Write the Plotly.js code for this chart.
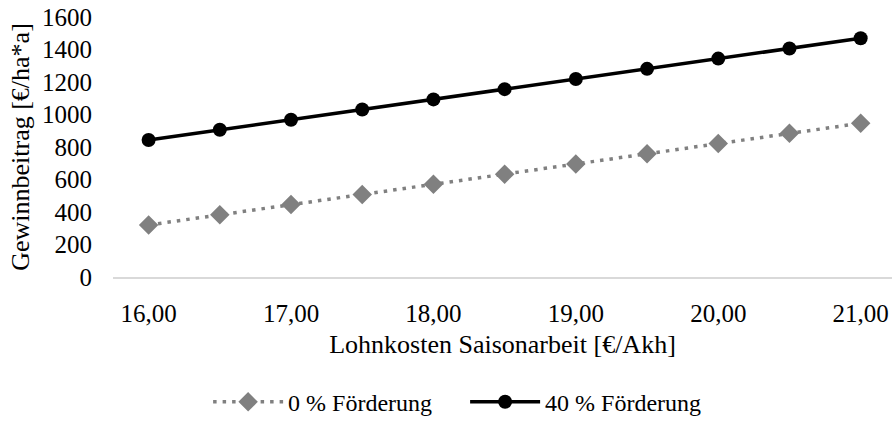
<!DOCTYPE html>
<html>
<head>
<meta charset="utf-8">
<script src="https://cdn.plot.ly/plotly-3.0.1.min.js"></script>
<style>html,body{margin:0;padding:0;background:#fff;}#chart{width:892px;height:425px;}</style>
</head>
<body>
<div id="chart"></div>
<script>
const lohnkosten = [16, 16.5, 17, 17.5, 18, 18.5, 19, 19.5, 20, 20.5, 21];
const foerderung0 = [320, 383, 446, 508, 571, 633, 696, 758, 821, 884, 946];
const foerderung40 = [843, 906, 968, 1031, 1093, 1156, 1218, 1281, 1344, 1406, 1469];
const xTickVals = [16, 17, 18, 19, 20, 21];
const xTickText = ["16,00", "17,00", "18,00", "19,00", "20,00", "21,00"];
const seriesNames = ["0 % Förderung", "40 % Förderung"];

const font = "Liberation Serif";

const traces = [
  {
    x: lohnkosten, y: foerderung0, name: seriesNames[0], type: "scatter", mode: "lines+markers",
    line: {color: "#808080", width: 3.5, dash: "3.5px,6px"},
    marker: {symbol: "diamond", size: 15, color: "#808080"}
  },
  {
    x: lohnkosten, y: foerderung40, name: seriesNames[1], type: "scatter", mode: "lines+markers",
    line: {color: "#000000", width: 3.5},
    marker: {symbol: "circle", size: 14, color: "#000000"}
  }
];

const layout = {
  width: 892, height: 425,
  margin: {l: 113, r: 0, t: 17, b: 148},
  paper_bgcolor: "#fff", plot_bgcolor: "#fff",
  font: {family: font, size: 24, color: "#000"},
  showlegend: true,
  legend: {orientation: "h", x: 0.452, xanchor: "center", y: -0.568, yanchor: "bottom",
           font: {family: font, size: 24, color: "#000"}, itemwidth: 70,
           entrywidth: 172, entrywidthmode: "pixels", traceorder: "normal"},
  xaxis: {
    range: [15.75, 21.22], tickvals: xTickVals, ticktext: xTickText,
    showgrid: false, zeroline: false, showline: true, linecolor: "#d9d9d9", linewidth: 1.5,
    ticks: "", ticklabelstandoff: 13, tickfont: {family: font, size: 25},
    title: {text: "Lohnkosten Saisonarbeit [€/Akh]", font: {family: font, size: 26}, standoff: 9}
  },
  yaxis: {
    range: [0, 1600], dtick: 200, showgrid: false, zeroline: false, showline: false,
    ticks: "", ticklabelstandoff: 20, tickfont: {family: font, size: 25},
    title: {text: "Gewinnbeitrag [€/ha*a]", font: {family: font, size: 26}, standoff: 4}
  }
};

Plotly.newPlot("chart", traces, layout, {displayModeBar: false, staticPlot: true});
</script>
</body>
</html>
